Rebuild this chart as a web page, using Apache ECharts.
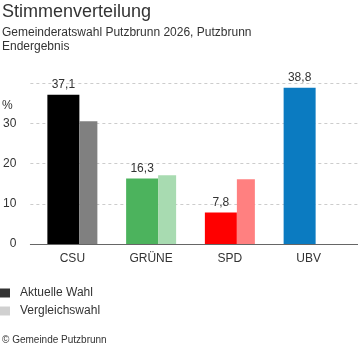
<!DOCTYPE html>
<html>
<head>
<meta charset="utf-8">
<script src="https://cdn.jsdelivr.net/npm/echarts@6/dist/echarts.min.js"></script>
<style>
  html, body { margin: 0; padding: 0; background: #fff; }
  #chart { width: 358px; height: 352px; }
</style>
</head>
<body>
<div id="chart"></div>
<script>
var parteien = ["CSU", "GRÜNE", "SPD", "UBV"];
var aktuell = [37.1, 16.3, 7.8, 38.8];
var vergleich = [30.5, 17.1, 16.1, null];
var farbenAktuell = ["#000000", "#4cb35d", "#ff0000", "#0b7bc1"];
var farbenVergleich = ["#808080", "#a8dbb1", "#ff8080", "#9fcbe8"];
var yTicks = [0, 10, 20, 30, 40];

var myChart = echarts.init(document.getElementById("chart"));
var font = "'Liberation Sans', Arial, sans-serif";

function withColors(values, colors) {
  var res = [];
  for (var i = 0; i < values.length; i++) {
    res.push({ value: values[i], itemStyle: { color: colors[i] } });
  }
  return res;
}

var option = {
  animation: false,
  textStyle: { fontFamily: font },
  title: [
    {
      text: "Stimmenverteilung",
      subtext: "Gemeinderatswahl Putzbrunn 2026, Putzbrunn\nEndergebnis",
      left: 2,
      top: 3,
      padding: 0,
      itemGap: 4,
      textStyle: { fontFamily: font, fontSize: 18, fontWeight: "normal", color: "#333", lineHeight: 18 },
      subtextStyle: { fontFamily: font, fontSize: 12, color: "#333", lineHeight: 14.5 }
    },
    {
      text: "%",
      left: 2,
      top: 100,
      padding: 0,
      textStyle: { fontFamily: font, fontSize: 12, fontWeight: "normal", color: "#333" }
    },
    {
      text: "© Gemeinde Putzbrunn",
      left: 2,
      top: 335,
      padding: 0,
      textStyle: { fontFamily: font, fontSize: 10, fontWeight: "normal", color: "#333" }
    }
  ],
  legend: {
    orient: "vertical",
    left: 0,
    top: 287,
    padding: 0,
    itemGap: 6,
    itemWidth: 10,
    itemHeight: 9,
    icon: "rect",
    textStyle: { fontFamily: font, fontSize: 12, color: "#333", padding: [0, 0, 0, 5] },
    data: ["Aktuelle Wahl", "Vergleichswahl"]
  },
  grid: [
    { left: 25, right: 0, top: 83, bottom: 108 },
    { left: 33, right: 10, top: 83, bottom: 108 }
  ],
  xAxis: [
    {
      gridIndex: 0,
      type: "value",
      min: 0,
      max: 1,
      axisLine: { show: true, onZero: false, lineStyle: { color: "#666", width: 1 } },
      axisTick: { show: false },
      axisLabel: { show: false },
      splitLine: { show: false }
    },
    {
      gridIndex: 1,
      type: "category",
      data: parteien,
      axisLine: { show: false },
      axisTick: { show: false },
      axisLabel: { margin: 9, fontFamily: font, fontSize: 12, color: "#333" }
    }
  ],
  yAxis: [
    {
      gridIndex: 0,
      type: "value",
      min: yTicks[0],
      max: yTicks[yTicks.length - 1],
      interval: 10,
      axisLine: { show: false },
      axisTick: { show: false },
      axisLabel: {
        margin: 14,
        fontFamily: font,
        fontSize: 12,
        color: "#333",
        showMaxLabel: false
      },
      splitLine: { show: true, lineStyle: { color: "#ccc", type: [3, 3], width: 1 } }
    },
    {
      gridIndex: 1,
      type: "value",
      min: yTicks[0],
      max: yTicks[yTicks.length - 1],
      show: false,
      splitLine: { show: false }
    }
  ],
  series: [
    {
      name: "Aktuelle Wahl",
      type: "bar",
      xAxisIndex: 1,
      yAxisIndex: 1,
      barWidth: 32,
      barGap: "0%",
      itemStyle: { color: "#333" },
      data: withColors(aktuell, farbenAktuell),
      label: {
        show: true,
        position: "top",
        distance: 4,
        fontFamily: font,
        fontSize: 12,
        color: "#333",
        formatter: function (p) { return String(p.value).replace(".", ","); }
      }
    },
    {
      name: "Vergleichswahl",
      type: "bar",
      xAxisIndex: 1,
      yAxisIndex: 1,
      barWidth: 18,
      barGap: "0%",
      itemStyle: { color: "#d0d0d0" },
      data: withColors(vergleich, farbenVergleich)
    }
  ]
};

myChart.setOption(option);
window.addEventListener("resize", function () {
  myChart.resize();
});
</script>
</body>
</html>
